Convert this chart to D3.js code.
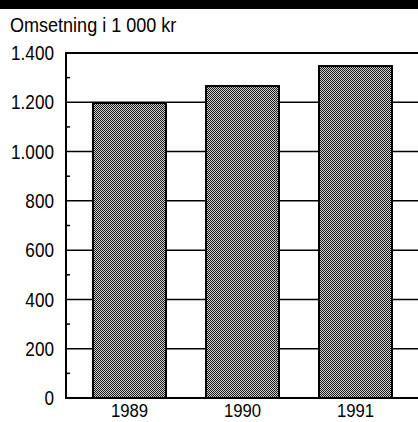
<!DOCTYPE html>
<html><head><meta charset="utf-8">
<script src="https://cdn.jsdelivr.net/npm/d3@7"></script>
<style>body{margin:0;background:#fff}svg{display:block}</style>
</head><body>
<script>
const years = ["1989", "1990", "1991"];
const values = [1197, 1266, 1347];
const yTicks = [0, 200, 400, 600, 800, 1000, 1200, 1400];
const yTickLabels = ["0", "200", "400", "600", "800", "1.000", "1.200", "1.400"];
const title = "Omsetning i 1 000 kr";

(function () {
const W = 418, H = 422;
const FONT = "'Liberation Sans', Arial, sans-serif";
const SX = 0.88;
const svg = d3.select("body").append("svg").attr("width", W).attr("height", H);
const defs = svg.append("defs");
const pat = defs.append("pattern").attr("id", "chk").attr("width", 2).attr("height", 2).attr("patternUnits", "userSpaceOnUse");
pat.append("rect").attr("width", 2).attr("height", 2).attr("fill", "#cfcfcf");
pat.append("rect").attr("width", 1).attr("height", 1).attr("fill", "#1a1a1a");
pat.append("rect").attr("x", 1).attr("y", 1).attr("width", 1).attr("height", 1).attr("fill", "#1a1a1a");

svg.append("rect").attr("x", 0).attr("y", 0).attr("width", W).attr("height", 9).attr("fill", "#000");

svg.append("text").attr("transform", `translate(10,32) scale(${SX},1)`).text(title)
  .attr("font-family", FONT).attr("font-size", 20.5).attr("fill", "#000");

const pL = 66, pR = 420, pT = 53, pB = 398;
const y = d3.scaleLinear().domain([0, 1400]).range([pB, pT]);
const x = d3.scaleBand().domain(years).range([pL, 419]).paddingInner(0.354).paddingOuter(0.239);

// gridlines
svg.append("g").selectAll("line").data(yTicks.filter(d => d > 0)).join("line")
  .attr("x1", pL).attr("x2", pR).attr("y1", d => y(d)).attr("y2", d => y(d))
  .attr("stroke", "#000").attr("stroke-width", d => d === 1400 ? 2 : 1.5);

// bars
svg.append("g").selectAll("rect").data(values).join("rect")
  .attr("x", (d, i) => x(years[i])).attr("width", x.bandwidth())
  .attr("y", d => y(d)).attr("height", d => pB - y(d))
  .attr("fill", "url(#chk)").attr("stroke", "#000").attr("stroke-width", 2);

// y axis
const yAxis = d3.axisLeft(y).tickValues(yTicks).tickSize(0).tickPadding(12)
  .tickFormat((d, i) => yTickLabels[i]);
const gy = svg.append("g").attr("transform", `translate(${pL},0)`).call(yAxis);
gy.select(".domain").remove();
gy.selectAll("text").attr("font-family", FONT).attr("font-size", 19.5).attr("fill", "#000")
  .attr("dy", "0.34em").attr("x", -12 / SX).attr("transform", `scale(${SX},1)`);
svg.append("line").attr("x1", pL).attr("x2", pL).attr("y1", pT - 1).attr("y2", pB + 1).attr("stroke", "#000").attr("stroke-width", 2);
// minor ticks
const minor = d3.range(100, 1400, 200);
svg.append("g").selectAll("line").data(minor).join("line")
  .attr("x1", pL).attr("x2", pL + 4).attr("y1", d => y(d)).attr("y2", d => y(d))
  .attr("stroke", "#000").attr("stroke-width", 1.5);

// x axis
svg.append("line").attr("x1", pL - 1).attr("x2", pR).attr("y1", pB).attr("y2", pB).attr("stroke", "#000").attr("stroke-width", 2);
const xAxis = d3.axisBottom(x).tickSize(0).tickPadding(0);
const gx = svg.append("g").attr("transform", `translate(0,${pB})`).call(xAxis);
gx.select(".domain").remove();
gx.selectAll("text").attr("dy", 0).attr("y", 19).attr("font-family", FONT).attr("font-size", 19).attr("fill", "#000")
  .attr("transform", `scale(${SX},1)`);
})();
</script>
</body></html>
